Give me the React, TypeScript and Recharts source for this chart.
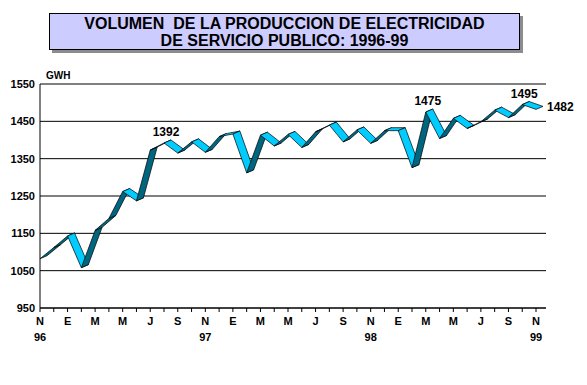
import { LineChart, Line, XAxis, YAxis, CartesianGrid } from "recharts"

// monthly series, nov-96 .. nov-99
const months = [
  "nov-96", "dic-96",
  "ene-97", "feb-97", "mar-97", "abr-97", "may-97", "jun-97", "jul-97", "ago-97", "sep-97", "oct-97", "nov-97", "dic-97",
  "ene-98", "feb-98", "mar-98", "abr-98", "may-98", "jun-98", "jul-98", "ago-98", "sep-98", "oct-98", "nov-98", "dic-98",
  "ene-99", "feb-99", "mar-99", "abr-99", "may-99", "jun-99", "jul-99", "ago-99", "sep-99", "oct-99", "nov-99",
]

const gwh = [
  1082, 1112,
  1143, 1058, 1158, 1190, 1262, 1237, 1373, 1392, 1365, 1395, 1367, 1409,
  1416, 1312, 1413, 1384, 1415, 1380, 1422, 1440, 1395, 1427, 1391, 1425,
  1425, 1326, 1475, 1404, 1458, 1431, 1449, 1480, 1460, 1495, 1482,
]

const yTicks = [950, 1050, 1150, 1250, 1350, 1450, 1550]

// points that carry a value label
const callouts = [9, 28, 35, 36]

const CYAN = "#00ccff"
const TEAL = "#006680"
const FONT = "'Liberation Sans', Arial, sans-serif"

const data = months.map((m, i) => ({ m, v: gwh[i] }))

// 3d ribbon: each segment is extruded back by a small offset
const DEPTH_X = 7
const DEPTH_Y = -3

function RibbonSegment(props: any) {
  const { index, points } = props
  if (!points || index >= points.length - 1) return <g key={`seg-${index}`} />
  const p0 = points[index]
  const p1 = points[index + 1]
  const cross = (p1.x - p0.x) * DEPTH_Y - (p1.y - p0.y) * DEPTH_X
  const d = `M${p0.x},${p0.y} L${p1.x},${p1.y} L${p1.x + DEPTH_X},${p1.y + DEPTH_Y} L${p0.x + DEPTH_X},${p0.y + DEPTH_Y} Z`
  return (
    <path
      key={`seg-${index}`}
      d={d}
      fill={cross > 0 ? TEAL : CYAN}
      stroke="#000"
      strokeWidth={0.7}
      strokeLinejoin="round"
    />
  )
}

function MonthTick({ x, y, payload }: any) {
  const i = payload.index
  if (i % 2 !== 0) return <g />
  const [mon, yr] = String(payload.value).split("-")
  return (
    <g fontFamily={FONT} fontWeight="bold" fontSize={11} fill="#000">
      <text x={x} y={y + 11} textAnchor="middle">{mon[0].toUpperCase()}</text>
      {mon === "nov" && <text x={x} y={y + 27} textAnchor="middle">{yr}</text>}
    </g>
  )
}

function Callout(props: any) {
  const { x, y, index, value } = props
  if (!callouts.includes(index)) return null
  const last = index === gwh.length - 1
  return (
    <text
      x={last ? x + 11 : x + 2}
      y={last ? y + 2 : y - 7}
      textAnchor={last ? "start" : "middle"}
      fontFamily={FONT}
      fontWeight="bold"
      fontSize={12}
      fill="#000"
    >
      {value}
    </text>
  )
}

export default function App() {
  return (
    <div style={{ position: "absolute", left: 0, top: 0, width: 587, height: 385, background: "#fff", fontFamily: FONT }}>
      <div
        style={{
          position: "absolute",
          left: 49,
          top: 13,
          width: 471,
          height: 37,
          boxSizing: "border-box",
          background: "#ccccff",
          border: "1px solid #000",
          boxShadow: "3px 3px 0 #8c8c8c",
          textAlign: "center",
          fontWeight: "bold",
          fontSize: 16,
          lineHeight: "17px",
          paddingTop: 1,
        }}
      >
        VOLUMEN&nbsp; DE LA PRODUCCION DE ELECTRICIDAD
        <br />
        DE SERVICIO PUBLICO: 1996-99
      </div>
      <div style={{ position: "absolute", left: 46, top: 70, fontSize: 10, fontWeight: "bold" }}>GWH</div>
      <LineChart width={587} height={385} data={data} margin={{ top: 84, right: 41, bottom: 47, left: 0 }}>
        <CartesianGrid vertical={false} stroke="#000" strokeWidth={1} />
        <XAxis
          dataKey="m"
          interval={0}
          padding={{ left: 0, right: 10 }}
          tick={<MonthTick />}
          tickSize={4}
          tickMargin={2}
          tickLine={{ stroke: "#000" }}
          axisLine={{ stroke: "#000" }}
          height={30}
        />
        <YAxis
          domain={[950, 1550]}
          ticks={yTicks}
          interval={0}
          width={40}
          tickSize={0}
          tickMargin={5}
          axisLine={{ stroke: "#000" }}
          tick={{ fill: "#000", fontSize: 11, fontWeight: "bold", fontFamily: FONT }}
        />
        <Line
          type="linear"
          dataKey="v"
          stroke="none"
          dot={(p: any) => <RibbonSegment {...p} key={`seg-${p.index}`} />}
          activeDot={false}
          label={<Callout />}
          isAnimationActive={false}
        />
      </LineChart>
    </div>
  )
}
